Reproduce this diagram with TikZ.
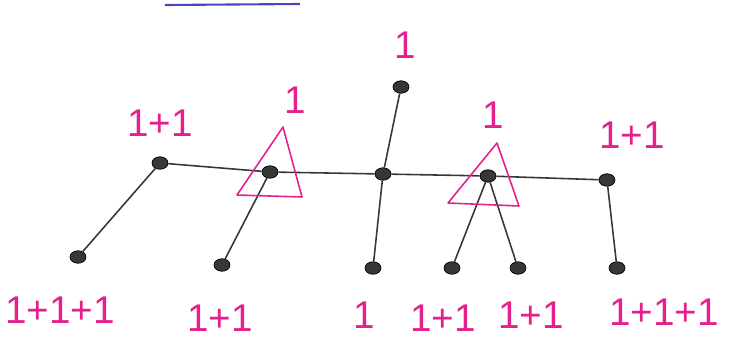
\documentclass[tikz,border=0pt]{standalone}
\usepackage{fontspec}
\setmainfont{Liberation Sans}
\usetikzlibrary{shapes.geometric,positioning}
\definecolor{penpink}{RGB}{228,32,140}
\definecolor{penblue}{RGB}{72,72,190}
\definecolor{pencil}{RGB}{55,55,55}

\begin{document}
\begin{tikzpicture}[x=0.02cm, y=-0.02cm,
    vtx/.style={ellipse, draw=black, fill=pencil, minimum width=3.2mm, minimum height=2.5mm, inner sep=0pt},
    lbl/.style={font=\fontsize{22}{26}\selectfont, text=penpink, inner sep=0pt},
    edge/.style={pencil, line width=0.9pt},
    tri/.style={penpink, line width=0.9pt, line join=round}
]
\useasboundingbox (0,0) rectangle (731,345);

\draw[penblue, line width=1.2pt] (165,5) -- (300,4);

% spine and top vertex
\foreach \n/\x/\y in {A/160/163, B/270/172, C/383/174, D/488/176, E/607/180}
    \node[vtx] (\n) at (\x,\y) {};
\node[vtx] (T) at (401,87) {};

% leaves
\foreach \n/\x/\y in {La/78/257, Lb/222/265, Lc/373/268, Ld/452/268, Le/518/268, Lf/617/268}
    \node[vtx] (\n) at (\x,\y) {};

% connections
\draw[edge] (A) -- (B) -- (C) -- (D) -- (E);
\draw[edge] (T) -- (C) -- (Lc);
\foreach \a/\b in {A/La, B/Lb, D/Ld, D/Le, E/Lf}
    \draw[edge] (\a) -- (\b);

% marked subtrees
\draw[tri] (283,127) -- (237,195) -- (302,197) -- cycle;
\draw[tri] (497,143) -- (448,203) -- (519,206) -- cycle;

% labels
\node[lbl] (lA) at (160,123) {1+1};
\node[lbl] (lB) at (295,100) {1};
\node[lbl] (lT) at (405,45) {1};
\node[lbl] (lD) at (493,115) {1};
\node[lbl] (lE) at (632,135) {1+1};
\foreach \n/\x/\y/\lab in {la/60/310/1+1+1, lb/220/318/1+1, lc/364/315/1, ld/443/318/1+1, le/531/315/1+1, lf/664/312/1+1+1}
    \node[lbl] (\n) at (\x,\y) {\lab};
\end{tikzpicture}
\end{document}
